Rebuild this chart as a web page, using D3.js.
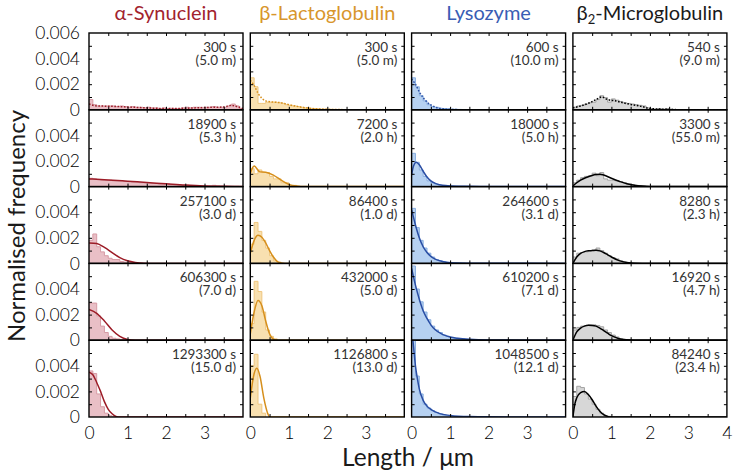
<!DOCTYPE html>
<html><head><meta charset="utf-8">
<script src="https://cdn.jsdelivr.net/npm/d3@7"></script>
<style>
html,body{margin:0;padding:0;background:#fff;}
svg{display:block;font-family:Lato,"Open Sans",sans-serif;}
</style></head>
<body><svg id="chart" width="733" height="474"></svg>
<script>
// ---------- data (frequencies in units of 1e-3, bins of 0.1 µm) ----------
const proteins = ["α-Synuclein", "β-Lactoglobulin", "Lysozyme", "β2-Microglobulin"];
const xTickValues = [0, 1, 2, 3, 4];
const yTickValues = [0, 0.002, 0.004, 0.006];
const yTickLabels = ["0", "0.002", "0.004", "0.006"];
const binWidth = 0.1;

const asynTimes = ["300 s", "18900 s", "257100 s", "606300 s", "1293300 s"];
const asynDurations = ["(5.0 m)", "(5.3 h)", "(3.0 d)", "(7.0 d)", "(15.0 d)"];
const blgTimes = ["300 s", "7200 s", "86400 s", "432000 s", "1126800 s"];
const blgDurations = ["(5.0 m)", "(2.0 h)", "(1.0 d)", "(5.0 d)", "(13.0 d)"];
const lysTimes = ["600 s", "18000 s", "264600 s", "610200 s", "1048500 s"];
const lysDurations = ["(10.0 m)", "(5.0 h)", "(3.1 d)", "(7.1 d)", "(12.1 d)"];
const b2mTimes = ["540 s", "3300 s", "8280 s", "16920 s", "84240 s"];
const b2mDurations = ["(9.0 m)", "(55.0 m)", "(2.3 h)", "(4.7 h)", "(23.4 h)"];

const asynHist = [
  [0.8,0.4,0.3,0.3,0.3,0.3,0.3,0.25,0.3,0.25,0.2,0.25,0.2,0.2,0.15,0.2,0.15,0.15,0.1,0.15,0.1,0.12,0.1,0.1,0.15,0.2,0.15,0.2,0.2,0.15,0.2,0.2,0.25,0.2,0.2,0.2,0.3,0.45,0.3,0.1],
  [0.65,0.6,0.55,0.5,0.5,0.5,0.45,0.45,0.45,0.4,0.4,0.35,0.35,0.3,0.3,0.3,0.25,0.25,0.2,0.2,0.2,0.15,0.15,0.12,0.1,0.1,0.08,0.08,0.05,0.05,0.05,0.05,0.1,0.05,0.03,0.03,0.02,0.02,0.02,0.01],
  [1.8,2.3,1.3,0.9,0.6,0.4,0.3,0.3,0.15,0.1,0.05,0.05,0.03,0.02],
  [2.9,2.9,1.9,1.1,0.6,0.3,0.15,0.1,0.05,0.02],
  [3.6,3.4,1.8,0.8,0.3,0.1,0.03]
];
const asynFit = [
  [[0,0.45],[0.2,0.3],[0.5,0.28],[1,0.22],[1.5,0.15],[2,0.1],[2.5,0.12],[3,0.18],[3.5,0.22],[3.7,0.35],[3.85,0.25],[4,0.1]],
  [[0,0.6],[0.5,0.52],[1,0.42],[1.5,0.32],[2,0.22],[2.5,0.12],[3,0.05],[3.5,0.02],[4,0.01]],
  [[0,1.6],[0.2,1.55],[0.4,1.25],[0.6,0.85],[0.8,0.45],[1.0,0.2],[1.2,0.07],[1.4,0.01],[1.6,0],[4,0]],
  [[0,2.4],[0.2,2.1],[0.4,1.5],[0.6,0.8],[0.8,0.3],[1.0,0.06],[1.2,0],[4,0]],
  [[0,3.5],[0.1,3.3],[0.2,2.7],[0.3,2.0],[0.4,1.2],[0.5,0.6],[0.6,0.25],[0.7,0.05],[0.8,0],[4,0]]
];

const blgHist = [
  [2.5,1.8,0.5,0.5,0.6,0.6,0.6,0.55,0.5,0.4,0.35,0.3,0.25,0.2,0.15,0.12,0.1,0.08,0.05,0.05,0.04,0.03,0.02,0.02,0.01,0.01],
  [1.4,1.0,1.3,1.1,1.1,0.8,0.6,0.6,0.3,0.3,0.1,0.1,0.03],
  [1.5,3.2,2.5,1.8,1.2,0.6,0.2,0.1],
  [1.3,4.6,3.8,2.2,0.8,0.3,0.1],
  [4.0,4.9,1.0,0.3]
];
const blgFit = [
  [[0,2.3],[0.1,1.9],[0.2,1.3],[0.3,0.9],[0.4,0.7],[0.6,0.6],[0.8,0.55],[1.0,0.4],[1.3,0.22],[1.6,0.1],[2,0.04],[2.5,0.01],[3,0],[4,0]],
  [[0,1.05],[0.1,1.6],[0.25,1.15],[0.4,1.12],[0.6,0.9],[0.8,0.5],[1.0,0.17],[1.2,0.04],[1.4,0],[4,0]],
  [[0,0.8],[0.1,1.8],[0.2,2.2],[0.3,2.05],[0.4,1.6],[0.5,1.0],[0.6,0.5],[0.7,0.15],[0.8,0.03],[0.9,0],[4,0]],
  [[0,0.5],[0.1,2.2],[0.2,3.1],[0.3,2.7],[0.4,1.5],[0.5,0.5],[0.6,0.08],[0.7,0],[4,0]],
  [[0,1.5],[0.1,3.4],[0.17,3.8],[0.25,3.2],[0.35,1.5],[0.45,0.3],[0.5,0],[4,0]]
];

const lysHist = [
  [2.5,1.8,1.1,0.7,0.4,0.25,0.2,0.12,0.1,0.08,0.05,0.04,0.03,0.02,0.02,0.01],
  [2.6,1.9,1.3,0.8,0.45,0.3,0.2,0.1,0.08,0.05,0.04,0.03,0.02,0.02],
  [4.3,2.8,1.8,1.2,0.8,0.5,0.3,0.2,0.12,0.08,0.05,0.04,0.03,0.02],
  [5.8,4.0,3.0,2.2,1.6,1.1,0.8,0.6,0.4,0.3,0.2,0.15,0.1,0.08,0.05,0.04,0.03,0.02],
  [7.5,3.2,1.8,1.0,0.7,0.5,0.35,0.25,0.15,0.1,0.06,0.04,0.02]
];
const lysFit = [
  [[0,2.4],[0.1,2.0],[0.2,1.4],[0.3,0.95],[0.4,0.6],[0.5,0.38],[0.6,0.22],[0.8,0.08],[1.0,0.03],[1.5,0.005],[4,0]],
  [[0,0.9],[0.05,1.6],[0.12,1.9],[0.2,1.7],[0.3,1.2],[0.4,0.75],[0.5,0.45],[0.6,0.27],[0.8,0.1],[1.0,0.05],[1.5,0.02],[2,0.01],[4,0]],
  [[0,4.2],[0.1,3.0],[0.2,2.0],[0.3,1.3],[0.4,0.85],[0.5,0.55],[0.6,0.35],[0.8,0.15],[1.0,0.06],[1.5,0.02],[2,0.01],[4,0]],
  [[0,5.6],[0.1,4.3],[0.2,3.2],[0.3,2.3],[0.4,1.7],[0.5,1.2],[0.6,0.85],[0.8,0.45],[1.0,0.25],[1.2,0.15],[1.5,0.07],[2,0.02],[4,0]],
  [[0,7],[0.05,5.5],[0.1,4.0],[0.15,3.0],[0.2,2.2],[0.3,1.3],[0.4,0.85],[0.5,0.6],[0.7,0.3],[1.0,0.12],[1.5,0.03],[2,0.01],[4,0]]
];

const b2mHist = [
  [0.2,0.3,0.35,0.45,0.55,0.6,0.8,1.1,0.95,0.6,0.85,0.75,0.65,0.55,0.5,0.45,0.4,0.35,0.3,0.15,0.1,0.05,0.1,0.05,0.1,0.05,0.02],
  [0.3,0.5,0.7,0.8,0.85,1.05,0.85,1.1,0.6,0.5,0.5,0.45,0.4,0.3,0.2,0.15,0.1,0.05,0.03],
  [0.5,0.8,0.85,0.9,1.0,1.05,1.2,1.0,0.8,0.6,0.45,0.35,0.2,0.1,0.05],
  [0.8,1.0,1.1,1.15,1.2,1.2,1.15,1.05,0.8,0.6,0.4,0.25,0.1,0.05],
  [1.6,2.4,2.3,1.8,1.4,1.0,0.6,0.3,0.1,0.05]
];
const b2mFit = [
  [[0,0.15],[0.2,0.3],[0.4,0.5],[0.6,0.8],[0.75,1.0],[0.9,0.8],[1.1,0.7],[1.3,0.55],[1.5,0.42],[1.8,0.25],[2.0,0.1],[2.3,0.05],[2.6,0.02],[3,0],[4,0]],
  [[0,0.05],[0.1,0.3],[0.2,0.5],[0.3,0.65],[0.4,0.77],[0.5,0.87],[0.6,0.94],[0.7,0.97],[0.8,0.9],[1.0,0.65],[1.2,0.42],[1.4,0.22],[1.6,0.1],[1.8,0.04],[2.0,0.01],[2.2,0],[4,0]],
  [[0,0],[0.1,0.5],[0.2,0.78],[0.3,0.92],[0.4,0.98],[0.5,1.0],[0.6,1.02],[0.7,0.98],[0.8,0.85],[0.9,0.68],[1.0,0.5],[1.2,0.22],[1.4,0.07],[1.6,0.01],[1.8,0],[4,0]],
  [[0,0],[0.1,0.65],[0.2,0.95],[0.3,1.1],[0.4,1.16],[0.5,1.15],[0.6,1.1],[0.7,0.95],[0.8,0.75],[0.9,0.55],[1.0,0.35],[1.2,0.12],[1.4,0.03],[1.6,0],[4,0]],
  [[0,0],[0.05,1.0],[0.1,1.5],[0.2,1.9],[0.3,2.0],[0.4,1.75],[0.5,1.35],[0.6,0.85],[0.7,0.45],[0.8,0.18],[0.9,0.05],[1.0,0],[4,0]]
];

// ---------- styling ----------
const columns = [
  {hist: asynHist, fit: asynFit, times: asynTimes, durs: asynDurations, line: "#9c1c27", fill: "#e9bfc6", edge: "#d79aa4", title: "#a2232e"},
  {hist: blgHist, fit: blgFit, times: blgTimes, durs: blgDurations, line: "#d68f1c", fill: "#f8e0b0", edge: "#efc67e", title: "#d8962c"},
  {hist: lysHist, fit: lysFit, times: lysTimes, durs: lysDurations, line: "#2a4ea4", fill: "#b6d1f1", edge: "#88aee0", title: "#3a5db4"},
  {hist: b2mHist, fit: b2mFit, times: b2mTimes, durs: b2mDurations, line: "#000000", fill: "#d7d7d7", edge: "#a3a3a3", title: "#1a1a1a"}
];

const leftX = 89, topY = 33, pw = 154, gapX = 7.3, rh = 76.8, nRows = 5;
const textCol = "#1a1a1a";
const font = "Lato,'Open Sans',sans-serif";

const svg = d3.select("#chart");
svg.append("rect").attr("width", 733).attr("height", 474).attr("fill", "#fff");

const x = d3.scaleLinear().domain([0, 4]).range([0, pw]);
const y = d3.scaleLinear().domain([0, 0.006]).range([rh, 0]);
const xMinor = d3.range(1, 8).map(i => i * 0.5);
const yMinor = d3.range(1, 6).map(i => i * 0.001);

const defs = svg.append("defs");
defs.append("clipPath").attr("id", "pclip").append("rect").attr("width", pw).attr("height", rh);

const area = d3.area().curve(d3.curveStepAfter).x(d => x(d[0])).y0(rh).y1(d => y(d[1] * 1e-3));
const stepLine = d3.line().curve(d3.curveStepAfter).x(d => x(d[0])).y(d => y(d[1] * 1e-3));
const fitLine = d3.line().curve(d3.curveMonotoneX).x(d => x(d[0])).y(d => y(d[1] * 1e-3));

columns.forEach((col, c) => {
  const px = leftX + c * (pw + gapX);
  // title
  const t = svg.append("text").attr("x", px + pw / 2).attr("y", 19.5).attr("text-anchor", "middle")
    .attr("font-size", 20).attr("fill", col.title);
  if (c === 3) {
    t.append("tspan").text("β");
    t.append("tspan").attr("font-size", 13).attr("dy", 4).text("2");
    t.append("tspan").attr("dy", -4).text("-Microglobulin");
  } else {
    t.text(proteins[c]);
  }

  for (let r = 0; r < nRows; r++) {
    const g = svg.append("g").attr("transform", `translate(${px},${topY + r * rh})`);
    const hist = col.hist[r];
    const pts = hist.map((v, i) => [i * binWidth, v]);
    pts.push([hist.length * binWidth, 0]);
    const pg = g.append("g").attr("clip-path", "url(#pclip)");
    pg.append("path").attr("d", area(pts)).attr("fill", col.fill);
    pg.append("path").attr("d", stepLine(pts)).attr("fill", "none").attr("stroke", col.edge).attr("stroke-width", 1);
    pg.append("path").attr("d", fitLine(col.fit[r])).attr("fill", "none").attr("stroke", col.line)
      .attr("stroke-width", 1.5).attr("stroke-dasharray", r === 0 ? "1.6,1.6" : null);

    // inner ticks on all sides
    const ax = [
      g.append("g").attr("transform", `translate(0,${rh})`).call(d3.axisBottom(x).tickValues(xMinor).tickSize(-3).tickFormat("")),
      g.append("g").call(d3.axisTop(x).tickValues(xMinor).tickSize(-3).tickFormat("")),
      g.append("g").call(d3.axisLeft(y).tickValues(yMinor).tickSize(-3).tickFormat("")),
      g.append("g").attr("transform", `translate(${pw},0)`).call(d3.axisRight(y).tickValues(yMinor).tickSize(-3).tickFormat(""))
    ];
    ax.forEach(a => { a.select(".domain").remove(); a.selectAll("line").attr("stroke", "#000").attr("stroke-width", 1); });

    g.append("rect").attr("width", pw).attr("height", rh).attr("fill", "none").attr("stroke", "#000").attr("stroke-width", 1.4);

    // time annotation
    const ann = g.append("text").attr("text-anchor", "end").attr("font-size", 13.5).attr("fill", "#333");
    ann.append("tspan").attr("x", pw - 7).attr("y", 19).text(col.times[r]);
    ann.append("tspan").attr("x", pw - 7).attr("y", 32).text(col.durs[r]);

    // y tick labels
    if (c === 0) {
      const vals = r === 0 ? yTickValues : yTickValues.slice(0, 3);
      const ya = g.append("g").call(d3.axisLeft(y).tickValues(vals).tickSize(0).tickPadding(9)
        .tickFormat(v => yTickLabels[yTickValues.indexOf(v)]));
      ya.select(".domain").remove();
      ya.selectAll("text").attr("font-size", 17.5).attr("font-weight", 300).attr("fill", "#000").attr("font-family", font);
    }
    // x tick labels
    if (r === nRows - 1) {
      const vals = c === 3 ? xTickValues : xTickValues.slice(0, 4);
      const xa = g.append("g").attr("transform", `translate(0,${rh})`)
        .call(d3.axisBottom(x).tickValues(vals).tickSize(0).tickPadding(10).tickFormat(d3.format("d")));
      xa.select(".domain").remove();
      xa.selectAll("text").attr("font-size", 17.5).attr("font-weight", 300).attr("fill", "#000").attr("font-family", font);
    }
  }
});

// axis titles
svg.append("text").attr("x", 408).attr("y", 466).attr("text-anchor", "middle").attr("font-size", 24.5)
  .attr("fill", textCol).text("Length / μm");
svg.append("text").attr("transform", "translate(25,226) rotate(-90)").attr("text-anchor", "middle")
  .attr("font-size", 24).attr("fill", textCol).text("Normalised frequency");
</script></body></html>
